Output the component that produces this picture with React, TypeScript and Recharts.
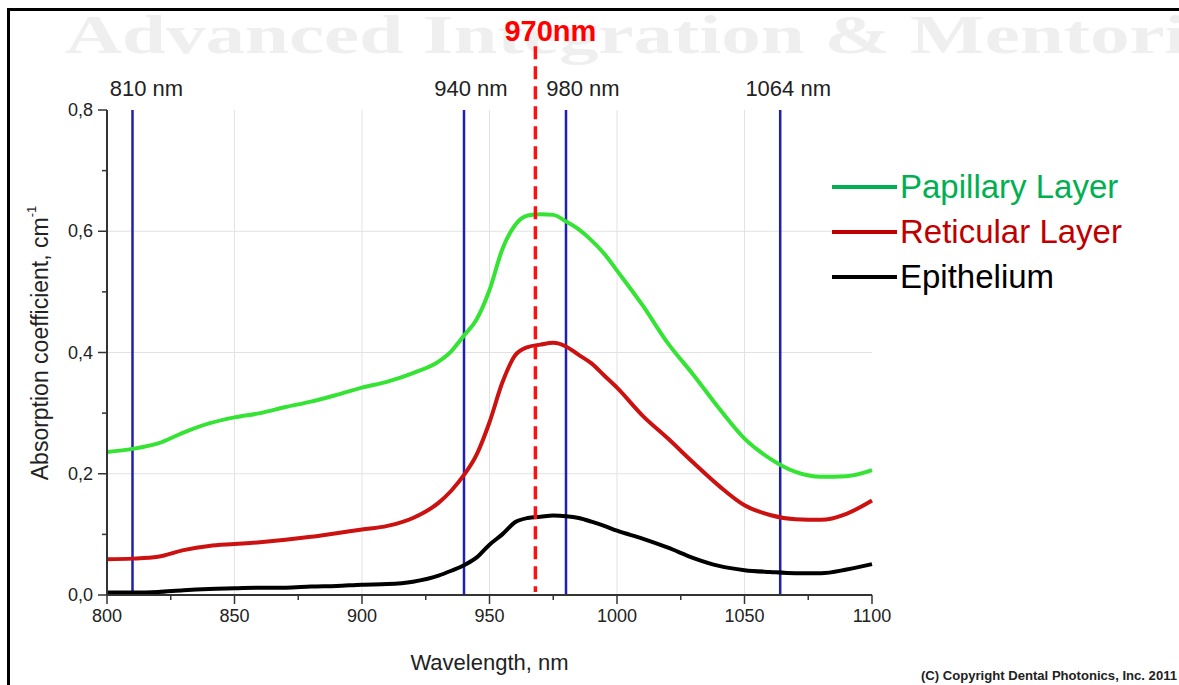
import React from "react"
import { LineChart, Line, XAxis, YAxis, CartesianGrid, ReferenceLine, Legend } from "recharts"

// wavelength in nm
const wavelengths = [
  800, 810, 820, 830, 840, 850, 860, 870, 880, 890, 900, 910, 920, 930, 935, 940, 945, 950, 955, 960, 965, 970, 975,
  980, 985, 990, 995, 1000, 1010, 1020, 1030, 1040, 1050, 1060, 1070, 1080, 1090, 1100,
]

// absorption coefficient, cm-1
const papillary = [
  0.236, 0.241, 0.25, 0.268, 0.283, 0.293, 0.3, 0.31, 0.319, 0.33, 0.342, 0.352, 0.366, 0.385, 0.402, 0.428, 0.455,
  0.503, 0.57, 0.61, 0.626, 0.628, 0.627, 0.616, 0.603, 0.585, 0.563, 0.535, 0.478, 0.415, 0.363, 0.308, 0.258, 0.225,
  0.203, 0.195, 0.196, 0.206,
]
const reticular = [
  0.059, 0.06, 0.063, 0.074, 0.081, 0.084, 0.087, 0.091, 0.096, 0.102, 0.108, 0.114, 0.127, 0.152, 0.172, 0.198, 0.232,
  0.285, 0.35, 0.395, 0.409, 0.413, 0.416, 0.41, 0.396, 0.382, 0.362, 0.342, 0.296, 0.258, 0.218, 0.18, 0.148, 0.132,
  0.125, 0.124, 0.134, 0.156,
]
const epithelium = [
  0.004, 0.004, 0.005, 0.008, 0.01, 0.011, 0.012, 0.012, 0.014, 0.015, 0.017, 0.018, 0.022, 0.032, 0.04, 0.049, 0.062,
  0.083, 0.1, 0.12, 0.127, 0.129, 0.131, 0.13, 0.127, 0.121, 0.114, 0.106, 0.093, 0.078, 0.061, 0.048, 0.041, 0.038,
  0.036, 0.036, 0.042, 0.051,
]

const seriesNames = ["Papillary Layer", "Reticular Layer", "Epithelium"]

// laser wavelengths marked on the chart
const laserLines = [810, 940, 980, 1064]
const laserLabels = ["810 nm", "940 nm", "980 nm", "1064 nm"]
const highlightLine = 968
const highlightTop = 0.905
const highlightBottom = 0.005
const highlightLabel = "970nm"

const xTicks = [800, 825, 850, 875, 900, 925, 950, 975, 1000, 1025, 1050, 1075, 1100]
const yTicks = [0, 0.1, 0.2, 0.3, 0.4, 0.5, 0.6, 0.7, 0.8]
const xGrid = [850, 900, 950, 1000, 1050]
const yGrid = [0.2, 0.4, 0.6]

const data = wavelengths.map((w, i) => ({
  wavelength: w,
  papillary: papillary[i],
  reticular: reticular[i],
  epithelium: epithelium[i],
}))

const FONT = "'Liberation Sans', Arial, sans-serif"
const lineColors = ["#35e335", "#cc1111", "#000000"]
const legendColors = ["#00b050", "#c00000", "#000000"]
const laserLabelShift = [14, 7, 17, 8]

const XTick = (props: any) => {
  const { x, y, payload } = props
  const major = payload.value % 50 === 0
  return (
    <g>
      <line x1={x} x2={x} y1={y} y2={y + (major ? 9 : 5)} stroke="#333" strokeWidth={1.5} />
      {major && (
        <text x={x} y={y + 27} textAnchor="middle" fontSize={18} fontFamily={FONT} fill="#222">
          {payload.value}
        </text>
      )}
    </g>
  )
}

const YTick = (props: any) => {
  const { x, y, payload } = props
  const major = Math.round(payload.value * 10) % 2 === 0
  return (
    <g>
      <line x1={x - (major ? 9 : 5)} x2={x} y1={y} y2={y} stroke="#333" strokeWidth={1.5} />
      {major && (
        <text x={x - 14} y={y + 6} textAnchor="end" fontSize={18} fontFamily={FONT} fill="#222">
          {payload.value.toFixed(1).replace(".", ",")}
        </text>
      )}
    </g>
  )
}

const laserLabel = (i: number) => (props: any) => {
  const { viewBox } = props
  return (
    <text
      x={viewBox.x + laserLabelShift[i]}
      y={viewBox.y - 14}
      textAnchor="middle"
      fontSize={22}
      fontFamily={FONT}
      fill="#222"
    >
      {laserLabels[i]}
    </text>
  )
}

const highlightText = (props: any) => {
  const { viewBox } = props
  return (
    <text
      x={viewBox.x + 15}
      y={viewBox.y - 5}
      textAnchor="middle"
      fontSize={29}
      fontWeight="bold"
      fontFamily={FONT}
      fill="#ff0000"
    >
      {highlightLabel}
    </text>
  )
}

const yAxisTitle = (props: any) => {
  const { viewBox } = props
  const cx = viewBox.x + 20
  const cy = 343
  return (
    <text
      x={cx}
      y={cy}
      transform={`rotate(-90 ${cx} ${cy})`}
      textAnchor="middle"
      dominantBaseline="central"
      fontSize={23}
      fontFamily={FONT}
      fill="#222"
    >
      Absorption coefficient, cm
      <tspan fontSize={13} dy={-9}>
        -1
      </tspan>
    </text>
  )
}

const xAxisTitle = (props: any) => {
  const { viewBox } = props
  return (
    <text
      x={viewBox.x + viewBox.width / 2}
      y={670}
      textAnchor="middle"
      fontSize={22}
      fontFamily={FONT}
      fill="#222"
    >
      Wavelength, nm
    </text>
  )
}

const LegendBox = (props: any) => {
  const items = [...(props.payload || [])].sort(
    (a: any, b: any) => seriesNames.indexOf(a.value) - seriesNames.indexOf(b.value)
  )
  return (
    <svg width={340} height={140}>
      {items.map((entry: any, i: number) => (
        <g key={entry.value}>
          <line x1={2} x2={67} y1={22 + i * 45} y2={22 + i * 45} stroke={legendColors[i]} strokeWidth={4} />
          <text x={70} y={33 + i * 45} fontSize={33} fontFamily={FONT} fill={legendColors[i]}>
            {entry.value}
          </text>
        </g>
      ))}
    </svg>
  )
}

export default function App() {
  return (
    <div style={{ position: "absolute", left: 0, top: 0, width: 1179, height: 685, background: "#fff", overflow: "hidden" }}>
      <svg width={1179} height={685} style={{ position: "absolute", left: 0, top: 0 }}>
        <text
          x={65}
          y={53}
          fontSize={55}
          fontWeight="bold"
          fontFamily="'Liberation Serif', 'Times New Roman', serif"
          fill="#efefef"
          textLength={1205}
          lengthAdjust="spacingAndGlyphs"
        >
          Advanced Integration &amp; Mentoring
        </text>
        <rect x={7} y={8} width={1172} height={3} fill="#000" />
        <rect x={7} y={8} width={3} height={677} fill="#000" />
        <text
          x={921}
          y={680}
          fontSize={12}
          fontWeight="bold"
          fontFamily={FONT}
          fill="#222"
          textLength={256}
          lengthAdjust="spacingAndGlyphs"
        >
          (C) Copyright Dental Photonics, Inc. 2011
        </text>
      </svg>
      <div style={{ position: "absolute", left: 0, top: 0 }}>
        <LineChart width={1179} height={685} data={data} margin={{ top: 110, right: 307, bottom: 60, left: 20 }}>
          <CartesianGrid stroke="#e2e2e2" strokeWidth={1} verticalValues={xGrid} horizontalValues={yGrid} />
          <XAxis
            dataKey="wavelength"
            type="number"
            domain={[800, 1100]}
            ticks={xTicks}
            height={30}
            tickSize={0}
            tickMargin={0}
            tickLine={false}
            tick={<XTick />}
            axisLine={{ stroke: "#333", strokeWidth: 2 }}
            label={{ content: xAxisTitle }}
          />
          <YAxis
            type="number"
            domain={[0, 0.8]}
            ticks={yTicks}
            width={87}
            tickSize={0}
            tickMargin={0}
            tickLine={false}
            tick={<YTick />}
            axisLine={{ stroke: "#333", strokeWidth: 2 }}
            label={{ content: yAxisTitle }}
          />
          {laserLines.map((w, i) => (
            <ReferenceLine key={w} x={w} stroke="#1f1fb0" strokeWidth={2.5} label={{ content: laserLabel(i) }} />
          ))}
          <Line
            type="monotone"
            dataKey="papillary"
            name={seriesNames[0]}
            stroke={lineColors[0]}
            strokeWidth={4}
            dot={false}
            isAnimationActive={false}
          />
          <Line
            type="monotone"
            dataKey="reticular"
            name={seriesNames[1]}
            stroke={lineColors[1]}
            strokeWidth={4}
            dot={false}
            isAnimationActive={false}
          />
          <Line
            type="monotone"
            dataKey="epithelium"
            name={seriesNames[2]}
            stroke={lineColors[2]}
            strokeWidth={4}
            dot={false}
            isAnimationActive={false}
          />
          <ReferenceLine
            segment={[
              { x: highlightLine, y: highlightTop },
              { x: highlightLine, y: highlightBottom },
            ]}
            ifOverflow="visible"
            stroke="#ff1010"
            strokeWidth={3.5}
            strokeDasharray="13 7"
            label={{ content: highlightText }}
          />
          <Legend
            layout="vertical"
            align="center"
            verticalAlign="middle"
            content={<LegendBox />}
            wrapperStyle={{ left: 830, top: 165, width: 340, height: 140 }}
          />
        </LineChart>
      </div>
    </div>
  )
}
